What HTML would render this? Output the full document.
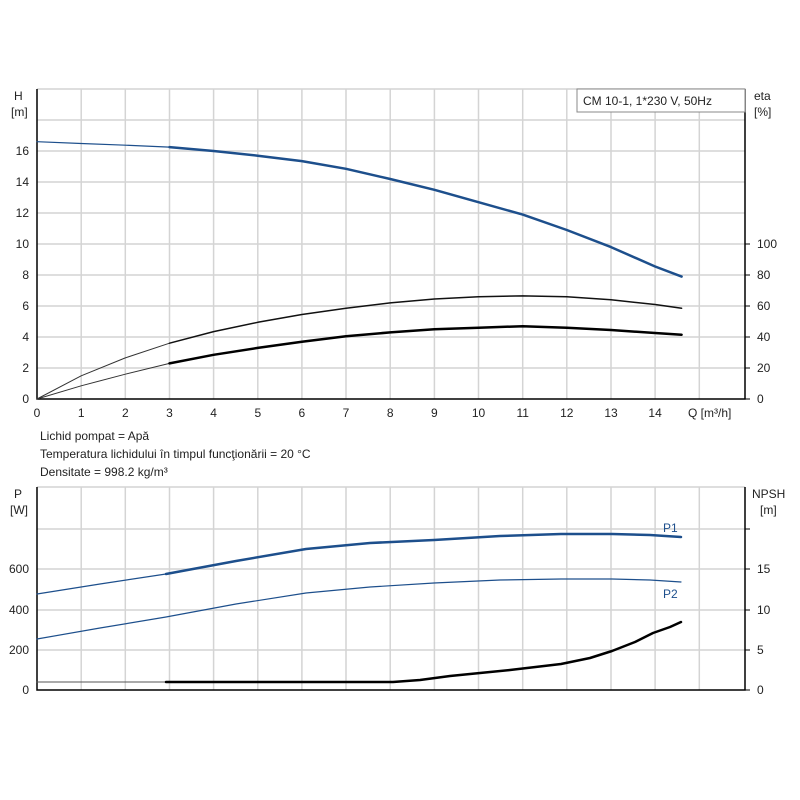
<!DOCTYPE html>
<html><head><meta charset="utf-8"><style>
html,body{margin:0;padding:0;background:#fff;}
svg{display:block;font-family:"Liberation Sans",sans-serif;}
</style></head><body>
<svg width="800" height="800" viewBox="0 0 800 800" xmlns="http://www.w3.org/2000/svg">
<rect width="800" height="800" fill="#fff"/>
<g stroke="#d4d4d4" stroke-width="1.5">
<line x1="81.2" y1="89" x2="81.2" y2="399"/><line x1="125.3" y1="89" x2="125.3" y2="399"/><line x1="169.5" y1="89" x2="169.5" y2="399"/><line x1="213.6" y1="89" x2="213.6" y2="399"/><line x1="257.8" y1="89" x2="257.8" y2="399"/><line x1="301.9" y1="89" x2="301.9" y2="399"/><line x1="346" y1="89" x2="346" y2="399"/><line x1="390.2" y1="89" x2="390.2" y2="399"/><line x1="434.4" y1="89" x2="434.4" y2="399"/><line x1="478.5" y1="89" x2="478.5" y2="399"/><line x1="522.7" y1="89" x2="522.7" y2="399"/><line x1="566.8" y1="89" x2="566.8" y2="399"/><line x1="611" y1="89" x2="611" y2="399"/><line x1="655.1" y1="89" x2="655.1" y2="399"/><line x1="699.3" y1="89" x2="699.3" y2="399"/>
<line x1="37" y1="89" x2="745" y2="89"/><line x1="37" y1="120" x2="745" y2="120"/><line x1="37" y1="151" x2="745" y2="151"/><line x1="37" y1="182" x2="745" y2="182"/><line x1="37" y1="213" x2="745" y2="213"/><line x1="37" y1="244" x2="745" y2="244"/><line x1="37" y1="275" x2="745" y2="275"/><line x1="37" y1="306" x2="745" y2="306"/><line x1="37" y1="337" x2="745" y2="337"/><line x1="37" y1="368" x2="745" y2="368"/>
<line x1="81.2" y1="487" x2="81.2" y2="690"/><line x1="125.3" y1="487" x2="125.3" y2="690"/><line x1="169.5" y1="487" x2="169.5" y2="690"/><line x1="213.6" y1="487" x2="213.6" y2="690"/><line x1="257.8" y1="487" x2="257.8" y2="690"/><line x1="301.9" y1="487" x2="301.9" y2="690"/><line x1="346" y1="487" x2="346" y2="690"/><line x1="390.2" y1="487" x2="390.2" y2="690"/><line x1="434.4" y1="487" x2="434.4" y2="690"/><line x1="478.5" y1="487" x2="478.5" y2="690"/><line x1="522.7" y1="487" x2="522.7" y2="690"/><line x1="566.8" y1="487" x2="566.8" y2="690"/><line x1="611" y1="487" x2="611" y2="690"/><line x1="655.1" y1="487" x2="655.1" y2="690"/><line x1="699.3" y1="487" x2="699.3" y2="690"/>
<line x1="37" y1="487" x2="745" y2="487"/><line x1="37" y1="529" x2="745" y2="529"/><line x1="37" y1="569" x2="745" y2="569"/><line x1="37" y1="610" x2="745" y2="610"/><line x1="37" y1="650" x2="745" y2="650"/>
</g>
<g stroke="#000" stroke-width="1.5" fill="none">
<polyline points="37,89 37,399 745,399 745,89"/>
<polyline points="37,487 37,690 745,690 745,487"/>
</g>
<g stroke="#000" stroke-width="1">
<line x1="745" y1="244" x2="750" y2="244"/><line x1="745" y1="275" x2="750" y2="275"/><line x1="745" y1="306" x2="750" y2="306"/><line x1="745" y1="337" x2="750" y2="337"/><line x1="745" y1="368" x2="750" y2="368"/><line x1="745" y1="399" x2="750" y2="399"/>
<line x1="745" y1="529" x2="750" y2="529"/><line x1="745" y1="569" x2="750" y2="569"/><line x1="745" y1="610" x2="750" y2="610"/><line x1="745" y1="650" x2="750" y2="650"/><line x1="745" y1="690" x2="750" y2="690"/>
</g>
<rect x="577" y="89" width="168" height="23" fill="#fff" stroke="#888" stroke-width="1"/>
<text x="583" y="105" font-size="12" fill="#222">CM 10-1, 1*230 V, 50Hz</text>
<g font-size="12" fill="#222">
<text x="14" y="100">H</text><text x="11" y="116">[m]</text>
<text x="754" y="100">eta</text><text x="754" y="116">[%]</text>
<g text-anchor="end"><text x="29" y="155">16</text><text x="29" y="186">14</text><text x="29" y="217">12</text><text x="29" y="248">10</text><text x="29" y="279">8</text><text x="29" y="310">6</text><text x="29" y="341">4</text><text x="29" y="372">2</text><text x="29" y="403">0</text></g>
<text x="757" y="248">100</text><text x="757" y="279">80</text><text x="757" y="310">60</text><text x="757" y="341">40</text><text x="757" y="372">20</text><text x="757" y="403">0</text>
<g text-anchor="middle"><text x="37" y="417">0</text><text x="81.2" y="417">1</text><text x="125.3" y="417">2</text><text x="169.5" y="417">3</text><text x="213.6" y="417">4</text><text x="257.8" y="417">5</text><text x="301.9" y="417">6</text><text x="346" y="417">7</text><text x="390.2" y="417">8</text><text x="434.4" y="417">9</text><text x="478.5" y="417">10</text><text x="522.7" y="417">11</text><text x="566.8" y="417">12</text><text x="611" y="417">13</text><text x="655.1" y="417">14</text></g>
<text x="688" y="417">Q [m³/h]</text>
<text x="40" y="440">Lichid pompat = Apă</text>
<text x="40" y="458">Temperatura lichidului în timpul funcţionării = 20 °C</text>
<text x="40" y="476">Densitate = 998.2 kg/m³</text>
<text x="14" y="498">P</text><text x="10" y="514">[W]</text>
<text x="752" y="498">NPSH</text><text x="760" y="514">[m]</text>
<g text-anchor="end"><text x="29" y="573">600</text><text x="29" y="614">400</text><text x="29" y="654">200</text><text x="29" y="694">0</text></g>
<text x="757" y="573">15</text><text x="757" y="614">10</text><text x="757" y="654">5</text><text x="757" y="694">0</text>
<text x="663" y="532" fill="#1d4f8c">P1</text><text x="663" y="598" fill="#1d4f8c">P2</text>
</g>
<g fill="none" stroke-linecap="round" stroke-linejoin="round">
<polyline stroke="#1d4f8c" stroke-width="1.2" points="37,141.7 81.2,143.5 125.3,145.2 169.5,147.1"/>
<polyline stroke="#1d4f8c" stroke-width="2.5" points="169.5,147.1 213.6,151 257.8,155.7 301.9,161.1 346,168.8 390.2,179 434.4,189.8 478.5,202.2 522.7,214.6 566.8,230 611,247.1 655.1,266.5 681.6,276.6"/>
<polyline stroke="#333" stroke-width="1" points="37,399 81.2,375.8 125.3,357.9 169.5,343.2"/>
<polyline stroke="#111" stroke-width="1.5" points="169.5,343.2 213.6,331.6 257.8,322.3 301.9,314.5 346,308.3 390.2,302.9 434.4,299 478.5,296.7 522.7,295.9 566.8,296.7 611,299.8 655.1,304.5 681.6,308.3"/>
<polyline stroke="#333" stroke-width="1" points="37,399 81.2,385.8 125.3,374.2 169.5,363.4"/>
<polyline stroke="#000" stroke-width="2.5" points="169.5,363.4 213.6,354.8 257.8,347.9 301.9,341.7 346,336.2 390.2,332.4 434.4,329.3 478.5,327.7 522.7,326.2 566.8,327.7 611,330 655.1,333 681.6,334.7"/>
<polyline stroke="#1d4f8c" stroke-width="1.2" points="37,594 100,584 166,574"/>
<polyline stroke="#1d4f8c" stroke-width="2.5" points="166,574 236,561 306,549 370,543 434,540 500,536 561,534 612,534 650,535 681,537"/>
<polyline stroke="#1d4f8c" stroke-width="1.2" points="37,639 100,628 166,617 236,604 306,593 370,587 434,583 500,580 561,579 612,579 650,580 681,582"/>
<polyline stroke="#555" stroke-width="1" points="37,682 166,682"/>
<polyline stroke="#000" stroke-width="2.5" points="166,682 393,682 420,680 450,676 480,673 510,670 561,664 590,658 612,651 635,642 653,633 670,627 681,622"/>
</g>
</svg>
</body></html>
